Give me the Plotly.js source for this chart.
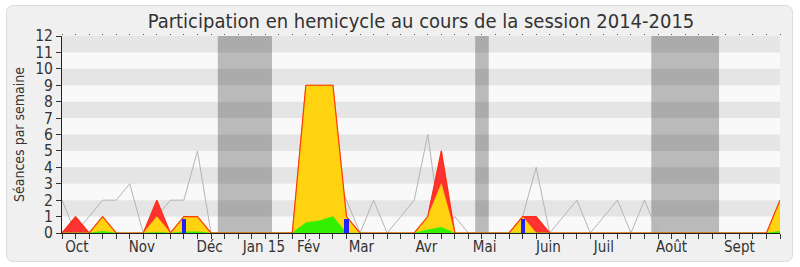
<!DOCTYPE html>
<html>
<head>
<meta charset="utf-8">
<script src="https://cdn.plot.ly/plotly-3.0.1.min.js"></script>
<style>
  html, body { margin: 0; padding: 0; background: #ffffff; }
  #frame { position: absolute; left: 6px; top: 5px; width: 785px; height: 255px;
           background: #f0f0f0; border: 1px solid #dcdcdc; border-radius: 7px; }
  #chart { position: absolute; left: 0; top: 0; width: 800px; height: 267px; }
</style>
</head>
<body>
<div id="frame"></div>
<div id="chart"></div>
<script>
// Week index of the session (0 = first week of October 2014)
const weeks = Array.from({length: 54}, (_, i) => i);

// Weekly sittings: grey reference line, red / yellow / green areas, blue bars
const medianLine = [2,0,1,2,2,3,0,1,2,2,5,0,0,0,0,0,0,0,3,3,4,2,0,2,0,1,2,6,0,1,0,0,0,0,1,4,0,1,2,0,1,2,0,2,0,0,0,0,0,0,0,0,0,0];
const redSeries  = [0,1,0,1,0,0,0,2,0,1,1,0,0,0,0,0,0,0,9,9,9,1,0,0,0,0,0,1,5,0,0,0,0,0,1,1,0,0,0,0,0,0,0,0,0,0,0,0,0,0,0,0,0,2];
const yellowSeries = [0,0,0,1,0,0,0,1,0,1,1,0,0,0,0,0,0,0,9,9,9,1,0,0,0,0,0,1,3,0,0,0,0,0,1,0,0,0,0,0,0,0,0,0,0,0,0,0,0,0,0,0,0,2];
const greenSeries  = [0,0,0,0.1,0,0,0,0.05,0,0.07,0.07,0,0,0,0,0,0,0,0.63,0.75,1,0,0,0,0,0,0,0.2,0.35,0,0,0,0,0,0,0,0,0,0,0,0,0,0,0,0,0,0,0,0,0,0,0,0,0.1];
const blueWeeks  = [9, 21, 34];
const blueValues = [0.85, 0.85, 0.85];

// Recess periods (in week units)
const recessStart = [11.5, 30.5, 43.5];
const recessEnd   = [15.5, 31.5, 48.5];

// Month labels and their positions along the week axis
const monthNames = ['Oct','Nov','Déc','Jan 15','Fév','Mar','Avr','Mai','Juin','Juil','Août','Sept'];
const monthPos   = [1.1, 5.9, 10.9, 14.9, 18.2, 22.1, 26.9, 31.2, 35.9, 40, 45, 50];

const FONT = 'DejaVu Sans Condensed, DejaVu Sans, sans-serif';
const xRange = [0, 53];

const traces = [
  { x: weeks, y: medianLine, mode: 'lines', line: {color: '#b4b4b4', width: 1},
    hoverinfo: 'skip', showlegend: false },
  { x: weeks, y: redSeries, mode: 'lines', fill: 'tozeroy', fillcolor: '#ff3232',
    line: {color: '#ff3232', width: 0.5}, hoverinfo: 'skip', showlegend: false },
  { x: weeks, y: yellowSeries, mode: 'lines', fill: 'tozeroy', fillcolor: '#ffd30f',
    line: {color: '#ffd30f', width: 0.5}, hoverinfo: 'skip', showlegend: false },
  { x: weeks, y: greenSeries, mode: 'lines', fill: 'tozeroy', fillcolor: '#33f000',
    line: {color: '#33f000', width: 0.5}, hoverinfo: 'skip', showlegend: false },
  { x: weeks, y: redSeries, mode: 'lines', line: {color: 'rgba(255,40,0,0.85)', width: 1.2},
    hoverinfo: 'skip', showlegend: false },
  { type: 'bar', x: blueWeeks, y: blueValues, width: 0.3, xaxis: 'x2', yaxis: 'y',
    marker: {color: '#2222ff', line: {width: 0}}, hoverinfo: 'skip', showlegend: false },
  // carries the month labels
  { x: monthPos, y: monthPos.map(() => null), xaxis: 'x3', yaxis: 'y', mode: 'lines',
    hoverinfo: 'skip', showlegend: false }
];

const shapes = [];
// alternating horizontal bands
for (let k = 1; k < 12; k += 2) {
  shapes.push({ type: 'rect', xref: 'paper', yref: 'y', x0: 0, x1: 1, y0: k, y1: k + 1,
                fillcolor: '#e5e5e5', line: {width: 0}, layer: 'below' });
}
recessStart.forEach((s, i) => {
  shapes.push({ type: 'rect', xref: 'x', yref: 'paper', x0: s, x1: recessEnd[i], y0: 0, y1: 1,
                fillcolor: 'rgba(0,0,0,0.25)', line: {width: 0}, layer: 'below' });
});

const layout = {
  width: 800, height: 267,
  margin: {l: 62, r: 20, t: 36, b: 34},
  paper_bgcolor: 'rgba(0,0,0,0)',
  plot_bgcolor: '#f9f9f9',
  font: {family: FONT, color: '#333333', size: 15},
  title: { text: 'Participation en hemicycle au cours de la session 2014-2015',
           font: {family: FONT, size: 20, color: '#333333'},
           xref: 'paper', x: 0.5, xanchor: 'center',
           yref: 'container', y: 0.92, yanchor: 'middle' },
  showlegend: false,
  bargap: 0,
  xaxis: { range: xRange, tickmode: 'array', tickvals: weeks, ticktext: weeks.map(() => ''),
           ticks: 'outside', ticklen: 5, tickcolor: '#333', tickwidth: 1,
           showgrid: false, zeroline: false, showline: true, linecolor: '#222', linewidth: 1,
           fixedrange: true },
  xaxis2: { overlaying: 'x', side: 'top', range: xRange, tickmode: 'array', tickvals: weeks,
            ticktext: weeks.map(() => ''), ticks: 'outside', ticklen: 1.5, tickcolor: '#555',
            tickwidth: 1, showgrid: false, zeroline: false, showline: false, fixedrange: true },
  xaxis3: { overlaying: 'x', side: 'bottom', range: xRange, tickmode: 'array', tickvals: monthPos,
            ticktext: monthNames, ticks: '', showgrid: false, zeroline: false, showline: false,
            tickfont: {family: FONT, size: 15, color: '#333'}, ticklabelstandoff: 3, fixedrange: true },
  yaxis: { range: [0, 12], tickmode: 'linear', tick0: 0, dtick: 1,
           ticks: 'outside', ticklen: 5, tickcolor: '#333', tickwidth: 1,
           showgrid: false, zeroline: false, showline: true, linecolor: '#222', linewidth: 1,
           tickfont: {family: FONT, size: 15.5, color: '#333'},
           title: {text: 'Séances par semaine', font: {family: FONT, size: 14, color: '#333'}, standoff: 7},
           fixedrange: true },
  shapes: shapes
};

Plotly.newPlot('chart', traces, layout, {displayModeBar: false, staticPlot: true});
</script>
</body>
</html>
